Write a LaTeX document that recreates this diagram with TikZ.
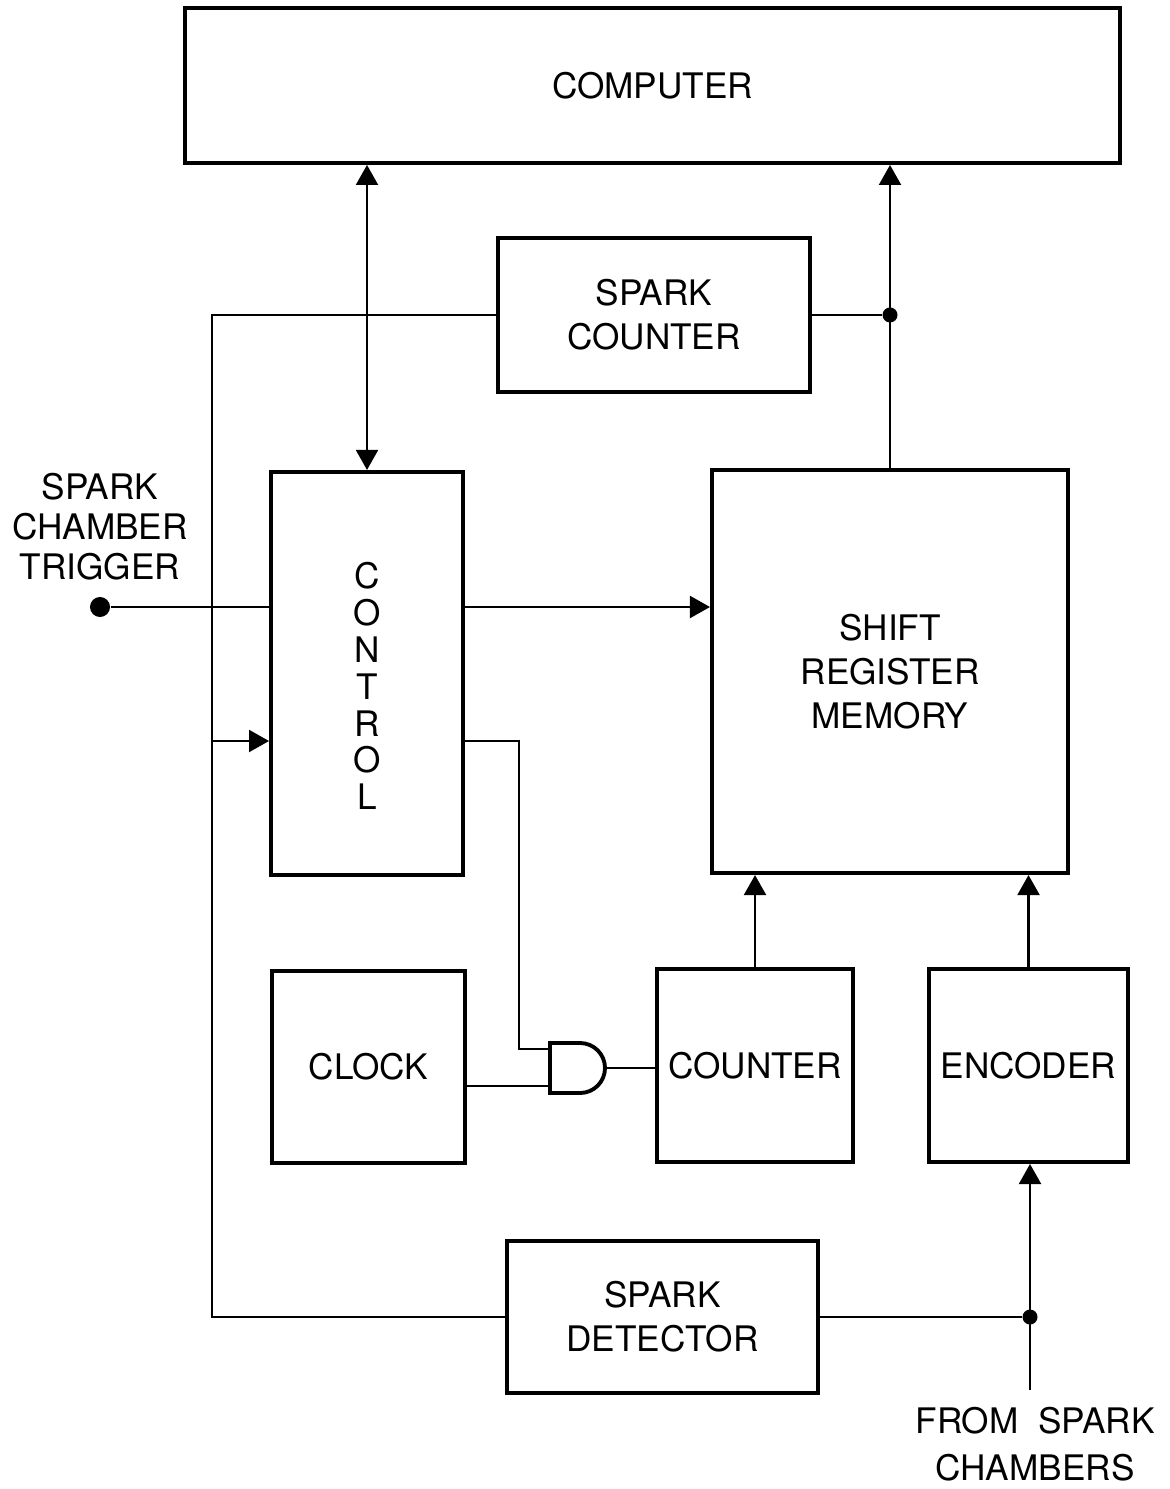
\documentclass[tikz,border=0pt]{standalone}
\usepackage{fontspec}
\setmainfont{TeX Gyre Heros}
\usepackage{tikz}
\usetikzlibrary{arrows.meta}

\begin{document}
\begin{tikzpicture}[x=0.01cm, y=-0.01cm,
  box/.style={draw, line width=1.1pt, inner sep=0pt, align=center, font=\fontsize{10}{12.5}\selectfont},
  wire/.style={line width=0.6pt},
  arw/.style={wire, -{Triangle[length=0.2cm, width=0.22cm]}},
  dot/.style={circle, fill, inner sep=0pt, minimum size=0.15cm},
  lbl/.style={align=center, inner sep=0pt, font=\fontsize{10}{12}\selectfont}]
  \useasboundingbox (0,0) rectangle (1169,1489);
  \node[box, minimum width=9.35cm, minimum height=1.55cm] (comp) at (652.5,85.5) {COMPUTER};
  \node[box, minimum width=3.12cm, minimum height=1.54cm] (scnt) at (654,315) {SPARK\\COUNTER};
  \node[box, minimum width=1.92cm, minimum height=4.03cm] (ctrl) at (367,673.5) {};
  \node[lbl, font=\fontsize{10}{10.5}\selectfont] (ctrltxt) at (367,686) {C\\O\\N\\T\\R\\O\\L};
  \node[box, minimum width=3.56cm, minimum height=4.03cm] (srm) at (890,671.5) {SHIFT\\REGISTER\\MEMORY};
  \node[box, minimum width=1.93cm, minimum height=1.92cm] (clk) at (368.5,1067) {CLOCK};
  \node[box, minimum width=1.96cm, minimum height=1.93cm] (cnt) at (755,1065.5) {COUNTER};
  \node[box, minimum width=1.99cm, minimum height=1.93cm] (enc) at (1028.5,1065.5) {ENCODER};
  \node[box, minimum width=3.11cm, minimum height=1.52cm] (sdet) at (662.5,1317) {SPARK\\DETECTOR};
  \node[dot, minimum size=0.2cm] (trig) at (100,607) {};
  \node[lbl, font=\fontsize{10}{11.4}\selectfont] (triglbl) at (100,527) {SPARK\\CHAMBER\\TRIGGER};
  \coordinate (fsc) at (1030,1390);
  \node[lbl, font=\fontsize{10}{13.3}\selectfont] (fsclbl) at (1035,1444) {FROM\ \ SPARK\\CHAMBERS};
  \coordinate (lb) at (212,1317);
  \coordinate (ca) at (212,741);
  \coordinate (in1) at (550,1049);
  \coordinate (in2) at (550,1086);
  \coordinate (out) at (605,1068);
  \coordinate (bend) at (519,1049);
  \node[dot] (j1) at (srm.north |- scnt.east) {};
  \node[dot] (j2) at (fsc |- sdet.east) {};
  \draw[box] (550,1043) -- (580,1043) arc[start angle=-90, end angle=90, radius=25] -- (550,1093) -- cycle;
  \draw[wire, {Triangle[length=0.2cm, width=0.22cm]}-{Triangle[length=0.2cm, width=0.22cm]}] (ctrl.north) -- (ctrl.north |- comp.south);
  \draw[wire] (scnt.east) -- (j1);
  \draw[arw] (srm.north) -- (srm.north |- comp.south);
  \draw[wire] (scnt.west) -| (lb) -- (sdet.west);
  \draw[arw] (ca) -- (ca -| ctrl.west);
  \draw[wire] (trig) -- (trig -| ctrl.west);
  \draw[arw] (ctrl.east |- trig) -- (srm.west |- trig);
  \draw[wire] (ctrl.east |- ca) -| (bend) -- (in1);
  \draw[wire] (clk.east |- in2) -- (in2);
  \draw[wire] (out) -- (out -| cnt.west);
  \draw[arw] (cnt.north) -- (cnt.north |- srm.south);
  \draw[arw] (enc.north) -- (enc.north |- srm.south);
  \draw[arw] (fsc) -- (fsc |- enc.south);
  \draw[wire] (sdet.east) -- (j2);
\end{tikzpicture}
\end{document}
